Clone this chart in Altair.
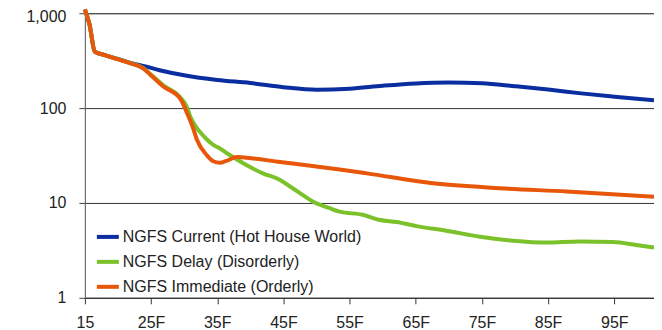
import altair as alt
import pandas as pd

series_names = [
    "NGFS Current (Hot House World)",
    "NGFS Delay (Disorderly)",
    "NGFS Immediate (Orderly)",
]
series_colors = ["#0A2DA0", "#7AC12A", "#E8560A"]

current_x = [15, 15.7, 16.5, 18, 20, 22, 24, 26.3, 30, 35, 40, 45, 50, 55, 60, 65, 70, 75, 80, 85, 90, 95, 101]
current_y = [1100, 760, 395, 362, 330, 298, 277, 251, 222, 198, 184, 166, 156, 160, 172, 182, 186, 183, 170, 157, 143, 132, 121]

delay_x = [15, 15.7, 16.5, 18, 19.8, 21.8, 23.8, 24.8, 26.8, 29.4, 30.4, 30.9, 31.9, 32.4, 33.4, 34.4, 35.4, 36.9,
           39.4, 41.9, 44.5, 46, 47.5, 49.5, 52, 53.5, 57, 59.6, 62.1, 65.1, 69.6, 74.7, 79.7, 84.7, 89.8, 94.8, 98.3, 101]
delay_y = [1100, 760, 395, 362, 331, 299, 265, 232, 175, 130, 103, 82, 62, 56, 47, 41, 37.5, 32,
           25.1, 20.5, 17.5, 14.9, 12.7, 10.3, 8.8, 8.1, 7.5, 6.6, 6.3, 5.7, 5.1, 4.4, 4.0, 3.82, 3.92, 3.87, 3.61, 3.39]

immediate_x = [15, 15.7, 16.5, 18, 19.8, 21.8, 23.8, 24.8, 26.8, 29.4, 30.4, 31.3, 31.9, 33.4, 34.4, 35.4, 36.5, 38,
               39.5, 44.5, 49.4, 53.5, 57.6, 67.6, 77.7, 87.8, 101]
immediate_y = [1100, 760, 395, 362, 330, 298, 262, 228, 170, 126, 90, 63, 47, 32, 27.5, 26.5, 28, 30.5,
               30, 27, 24.5, 22.5, 20.5, 16.1, 14.3, 13.2, 11.6]

x_ticks = [15, 25, 35, 45, 55, 65, 75, 85, 95]
y_ticks = [1, 10, 100, 1000]

rows = []
for name, xs, ys in zip(series_names, [current_x, delay_x, immediate_x], [current_y, delay_y, immediate_y]):
    for i, (a, b) in enumerate(zip(xs, ys)):
        rows.append({"series": name, "x": a, "y": b, "i": i})
df = pd.DataFrame(rows)

FONT = "Liberation Sans"

chart = alt.Chart(df).mark_line(strokeWidth=4, interpolate="monotone", clip=False).encode(
    x=alt.X("x:Q",
            scale=alt.Scale(domain=[15, 101], nice=False, zero=False),
            axis=alt.Axis(values=x_ticks, title=None, grid=False,
                          labelExpr="datum.value == 15 ? '15' : datum.value + 'F'",
                          labelFontSize=16, labelFont=FONT, labelColor="#222",
                          tickSize=6, tickColor="#333", domainColor="#333",
                          labelPadding=11, labelFlush=False)),
    y=alt.Y("y:Q",
            scale=alt.Scale(type="log", domain=[1, 1000], nice=False),
            axis=alt.Axis(values=y_ticks, title=None, format=",d",
                          labelFontSize=16, labelFont=FONT, labelColor="#222",
                          labelOffset={"condition": {"test": "datum.value == 1000", "value": 3}, "value": 0},
                          tickSize=6, tickColor="#444", domainColor="#666",
                          labelPadding=13, grid=True, gridColor="#333", gridWidth=1)),
    color=alt.Color("series:N",
                    scale=alt.Scale(domain=series_names, range=series_colors),
                    legend=alt.Legend(title=None, orient="none", legendX=10, legendY=211,
                                      symbolType="stroke", symbolSize=484, symbolStrokeWidth=4,
                                      labelFontSize=16, labelFont=FONT, labelColor="#222",
                                      labelLimit=0, labelOffset=2, rowPadding=4, padding=0)),
    order=alt.Order("i:Q"),
).properties(
    width=570,
    height=285,
    autosize=alt.AutoSizeParams(type="none"),
    padding={"left": 77, "top": 5, "right": 0, "bottom": 36},
).configure_view(
    stroke="#999", strokeWidth=1
)

chart.save("out.html", embed_options={"renderer": "svg", "actions": False})
